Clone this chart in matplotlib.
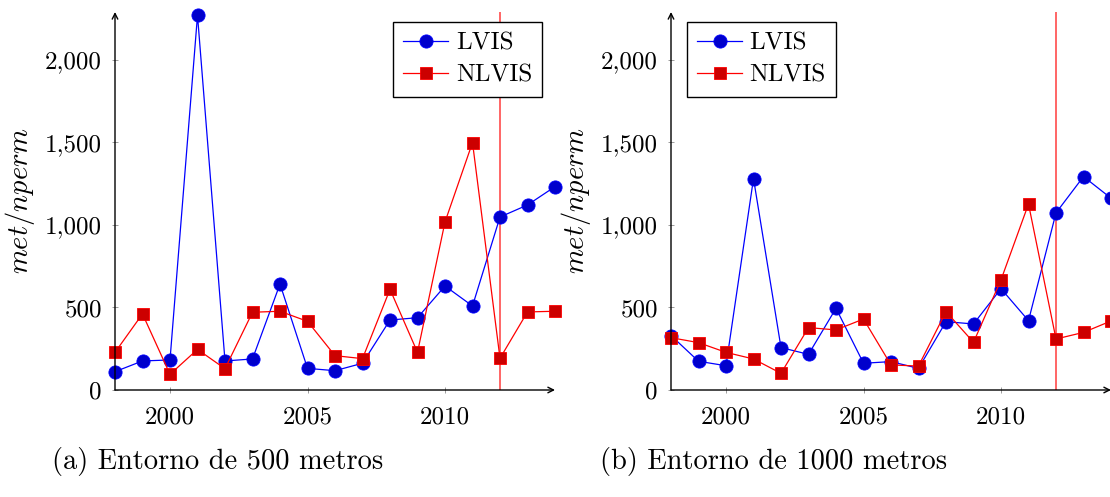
import matplotlib
matplotlib.use("Agg")
import matplotlib.pyplot as plt
from matplotlib.ticker import FuncFormatter

plt.rcParams['font.family'] = ['cmr10', 'DejaVu Serif']
plt.rcParams['mathtext.fontset'] = 'cm'
plt.rcParams['axes.formatter.use_mathtext'] = True

years = list(range(1998, 2015))

lvis_500 = [111, 176, 182, 2270, 176, 188, 642, 131, 117, 162, 424, 438, 630, 509, 1048, 1121, 1232]
nlvis_500 = [228, 461, 95, 246, 129, 471, 477, 416, 208, 190, 610, 228, 1018, 1499, 192, 473, 477]

lvis_1000 = [330, 174, 147, 1281, 257, 216, 495, 162, 172, 131, 414, 400, 614, 420, 1073, 1293, 1162]
nlvis_1000 = [317, 287, 228, 188, 101, 378, 364, 430, 152, 145, 475, 289, 667, 1127, 309, 349, 418]

series_names = ["LVIS", "NLVIS"]
xticks = [2000, 2005, 2010]
yticks = [0, 500, 1000, 1500, 2000]
vline_year = 2012
captions = ["(a) Entorno de 500 metros", "(b) Entorno de 1000 metros"]
ylabel = r"$met/nperm$"

W, H = 1110, 497
fig = plt.figure(figsize=(W / 100, H / 100), dpi=100)

def px_ax(x0, x1, y_bottom, y_top):
    return fig.add_axes([x0 / W, (H - y_bottom) / H, (x1 - x0) / W, (y_bottom - y_top) / H])

ax1 = px_ax(115, 555, 390, 12)
ax2 = px_ax(671, 1111, 390, 12)

blue_line = (0, 0, 1)
blue_fill = (0, 0, 0.8)
red_line = (1, 0, 0)
red_fill = (0.8, 0, 0)

panels = [(ax1, lvis_500, nlvis_500, 'upper right', (392, 542)),
          (ax2, lvis_1000, nlvis_1000, 'upper left', (687, 840))]

for ax, lv, nl, loc, (lx0, lx1) in panels:
    ax.axvline(vline_year, color=(1, 0.35, 0.35), lw=1.3, zorder=1)
    ax.plot(years, lv, color=blue_line, lw=0.9, marker='o', markersize=9.5,
            markerfacecolor=blue_fill, markeredgecolor=blue_line, markeredgewidth=0.6,
            label=series_names[0], zorder=3, clip_on=False)
    ax.plot(years, nl, color=red_line, lw=0.9, marker='s', markersize=8.2,
            markerfacecolor=red_fill, markeredgecolor=red_line, markeredgewidth=0.6,
            label=series_names[1], zorder=4, clip_on=False)
    ax.set_xlim(1998, 2014)
    ax.set_ylim(0, 2290)
    ax.set_xticks(xticks)
    ax.set_yticks(yticks)
    ax.yaxis.set_major_formatter(FuncFormatter(lambda v, p: f"{v:,.0f}"))
    ax.xaxis.set_major_formatter(FuncFormatter(lambda v, p: f"{v:.0f}"))
    for s in ax.spines.values():
        s.set_visible(False)
    ax.tick_params(direction='inout', length=5, width=0.6, color='0.55',
                   labelsize=18, pad=7)
    ax.tick_params(axis='x', pad=9)
    ax.set_facecolor('none')
    # axis lines with arrows
    ax.annotate('', xy=(1.0, 0), xytext=(0, 0), xycoords='axes fraction',
                arrowprops=dict(arrowstyle='->', lw=1.0, color='black',
                                shrinkA=0, shrinkB=0, mutation_scale=10), zorder=5)
    ax.annotate('', xy=(0, 1.0), xytext=(0, 0), xycoords='axes fraction',
                arrowprops=dict(arrowstyle='->', lw=1.0, color='black',
                                shrinkA=0, shrinkB=0, mutation_scale=10), zorder=5)
    ax.set_ylabel(ylabel, fontsize=20.5)
    ax.yaxis.set_label_coords(-0.178, 0.5)
    # legend
    leg = ax.legend(loc=loc, numpoints=1, fontsize=18, frameon=True, fancybox=False,
                    edgecolor='black', framealpha=1, handlelength=1.8,
                    handletextpad=0.3, borderpad=0.4, labelspacing=0.4,
                    borderaxespad=0.0)
    leg.get_frame().set_linewidth(1.0)
    if loc == 'upper right':
        leg.set_bbox_to_anchor((lx1 / W, (H - 22) / H), transform=fig.transFigure)
    else:
        leg.set_bbox_to_anchor((lx0 / W, (H - 22) / H), transform=fig.transFigure)

fig.text(52 / W, (H - 461) / H, captions[0], fontsize=20.5, va='center', ha='left')
fig.text(600 / W, (H - 461) / H, captions[1], fontsize=20.5, va='center', ha='left')

fig.savefig("out.png", dpi=100)
